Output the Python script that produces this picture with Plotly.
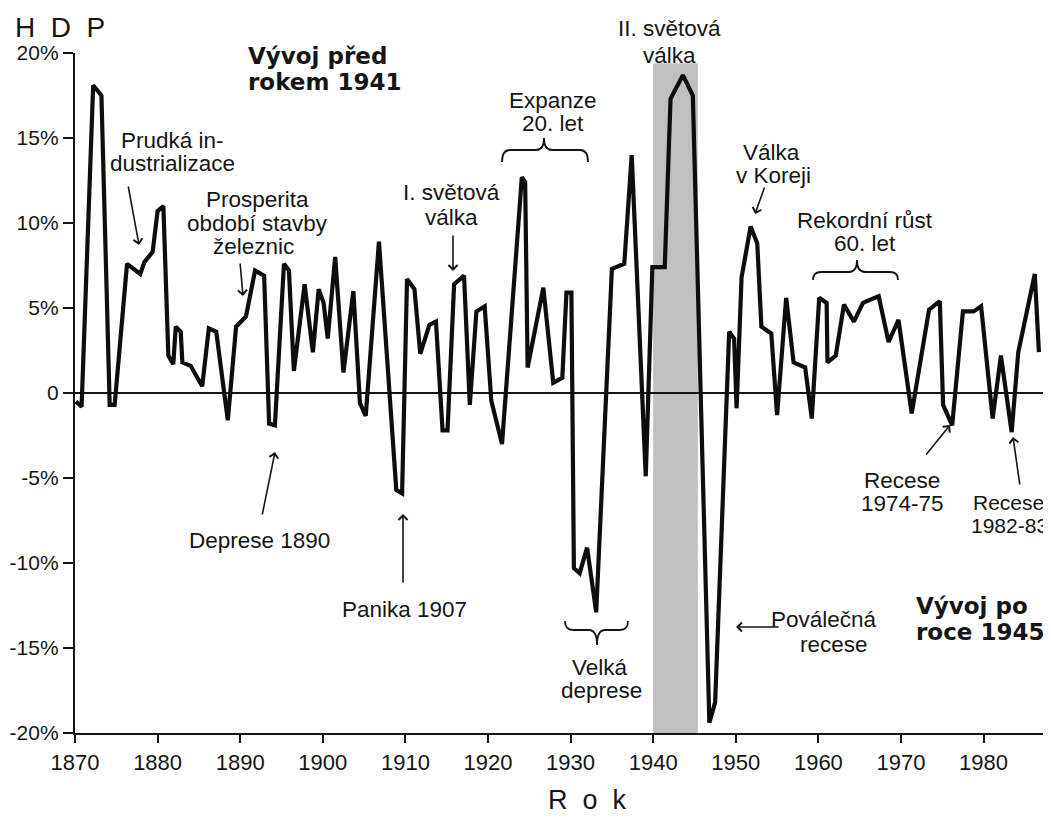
import plotly.graph_objects as go

# ---------------- data ----------------
years = [
    1870.1, 1870.8, 1872.2, 1873.2, 1874.2, 1874.8, 1876.3, 1877.9, 1878.4, 1879.4,
    1880.0, 1880.7, 1881.3, 1881.9, 1882.2, 1882.8, 1883.0, 1884.0, 1885.4, 1886.2,
    1887.1, 1888.5, 1889.5, 1890.7, 1891.8, 1892.9, 1893.5, 1894.2, 1895.3, 1895.9,
    1896.5, 1897.8, 1898.8, 1899.5, 1900.1, 1900.6, 1901.5, 1902.5, 1903.7, 1904.5,
    1905.2, 1906.8, 1908.9, 1909.6, 1910.2, 1911.1, 1911.8, 1912.9, 1913.7, 1914.5,
    1915.1, 1915.9, 1917.1, 1917.8, 1918.6, 1919.6, 1920.4, 1921.7, 1924.1, 1924.5,
    1924.8, 1926.7, 1927.9, 1929.0, 1929.5, 1930.1, 1930.4, 1931.1, 1932.0, 1933.1,
    1935.0, 1936.5, 1937.4, 1939.1, 1939.9, 1941.4, 1942.1, 1943.6, 1944.8, 1946.8,
    1947.5, 1949.2, 1949.8, 1950.1, 1950.7, 1951.8, 1952.6, 1953.1, 1954.3, 1955.0,
    1956.1, 1957.0, 1958.4, 1959.2, 1960.1, 1961.0, 1961.1, 1962.1, 1963.1, 1964.3,
    1965.4, 1967.3, 1968.5, 1969.7, 1971.3, 1973.4, 1974.7, 1975.1, 1976.2, 1977.5,
    1978.8, 1979.7, 1981.1, 1982.1, 1983.4, 1984.2, 1986.2, 1986.7,
]
growth = [
    -0.5, -0.8, 18.1, 17.5, -0.7, -0.7, 7.6, 7.0, 7.7, 8.3,
    10.7, 11.0, 2.2, 1.7, 3.9, 3.6, 1.8, 1.6, 0.4, 3.8,
    3.6, -1.6, 3.9, 4.5, 7.2, 6.9, -1.8, -1.9, 7.6, 7.2,
    1.3, 6.4, 2.4, 6.1, 5.3, 3.2, 8.0, 1.2, 6.0, -0.6,
    -1.35, 8.9, -5.7, -5.9, 6.7, 6.1, 2.3, 4.0, 4.2, -2.2,
    -2.2, 6.4, 6.9, -0.7, 4.8, 5.1, -0.45, -3.0, 12.7, 12.4,
    1.5, 6.2, 0.6, 0.9, 5.9, 5.9, -10.3, -10.6, -9.1, -12.9,
    7.3, 7.6, 14.0, -4.9, 7.4, 7.4, 17.3, 18.7, 17.5, -19.4,
    -18.2, 3.6, 3.2, -0.9, 6.8, 9.8, 8.8, 3.9, 3.5, -1.3,
    5.6, 1.8, 1.5, -1.5, 5.6, 5.3, 1.8, 2.2, 5.2, 4.2,
    5.3, 5.7, 3.0, 4.3, -1.2, 4.9, 5.4, -0.7, -1.9, 4.8,
    4.8, 5.1, -1.5, 2.2, -2.3, 2.4, 7.0, 2.4,
]

x_tick_values = [1870, 1880, 1890, 1900, 1910, 1920, 1930, 1940, 1950, 1960, 1970, 1980]
x_tick_labels = ["1870", "1880", "1890", "1900", "1910", "1920", "1930", "1940",
                 "1950", "1960", "1970", "1980"]
y_tick_values = [20, 15, 10, 5, 0, -5, -10, -15, -20]
y_tick_labels = ["20%", "15%", "10%", "5%", "0", "-5%", "-10%", "-15%", "-20%"]

war_start, war_end = 1940.0, 1945.4

# ---------------- layout geometry (page pixels) ----------------
W, H = 1051, 818
PAGE_OFFSET = 8                      # default body margin of the page
LEFT, TOP, PLOT_W, PLOT_H = 75, 53, 973, 680
X_MIN, X_MAX = 1870.0, 1987.8
Y_MIN, Y_MAX = -20.0, 20.0

FONT = "Liberation Sans, Arial, Helvetica, sans-serif"
BOLD = "DejaVu Sans, Verdana, sans-serif"
INK = "#151515"


def dx(px):
    return X_MIN + (px - LEFT) / PLOT_W * (X_MAX - X_MIN)


def dy(py):
    return Y_MAX - (py - TOP) / PLOT_H * (Y_MAX - Y_MIN)


def paper_x(px):
    return (px - LEFT) / PLOT_W


def paper_y(py):
    return 1 - (py - TOP) / PLOT_H


fig = go.Figure()

fig.add_trace(go.Scatter(
    x=years, y=growth, mode="lines",
    line=dict(color="#0d0d0d", width=4.2),
    hoverinfo="skip", showlegend=False,
))

shapes = []
# WWII shaded band
shapes.append(dict(type="rect", xref="x", yref="y", x0=war_start, x1=war_end,
                   y0=-20, y1=19.4, fillcolor="#c0c0c0", line=dict(width=0),
                   layer="below"))


def brace(x0, x1, xc, y_end, y_main, y_tip, r=8):
    pts = [
        ("M", [(x0, y_end)]),
        ("Q", [(x0, y_main), (x0 + r, y_main)]),
        ("L", [(xc - r, y_main)]),
        ("Q", [(xc, y_main), (xc, y_tip)]),
        ("Q", [(xc, y_main), (xc + r, y_main)]),
        ("L", [(x1 - r, y_main)]),
        ("Q", [(x1, y_main), (x1, y_end)]),
    ]
    s = ""
    for cmd, ps in pts:
        s += cmd + " ".join(f"{dx(a):.3f},{dy(b):.3f}" for a, b in ps) + " "
    return dict(type="path", xref="x", yref="y", path=s.strip(),
                line=dict(color=INK, width=1.8))


shapes.append(brace(502, 588, 544, 162, 150, 138))   # Expanze 20. let
shapes.append(brace(813, 898, 857, 280, 272, 260))   # Rekordní růst 60. let
shapes.append(brace(565, 628, 597, 621, 630, 645))   # Velká deprese

annotations = []


def text(s, px, py, size=22.5, bold=False, anchor="center"):
    annotations.append(dict(
        text=f"<b>{s}</b>" if bold else s,
        x=paper_x(px), y=paper_y(py), xref="paper", yref="paper", showarrow=False,
        xanchor=anchor, yanchor="middle",
        font=dict(family=BOLD if bold else FONT, size=size, color=INK),
    ))


def arrow(tail, head):
    annotations.append(dict(
        text="", x=dx(head[0]), y=dy(head[1]), ax=dx(tail[0]), ay=dy(tail[1]),
        xref="x", yref="y", axref="x", ayref="y", showarrow=True,
        arrowhead=4, arrowsize=1.1, arrowwidth=1.6, arrowcolor=INK,
    ))


text("H\u00a0\u00a0D\u00a0\u00a0P", 60, 28, size=28)
text("R\u00a0\u00a0o\u00a0\u00a0k", 587, 800, size=27)

text("Vývoj před", 246, 56, size=23, bold=True, anchor="left")
text("rokem 1941", 246, 82, size=23, bold=True, anchor="left")
text("Vývoj po", 914, 606, size=23, bold=True, anchor="left")
text("roce 1945", 914, 632, size=23, bold=True, anchor="left")

text("Prudká in-", 172, 140)
text("dustrializace", 172, 163)
arrow((128, 185), (139, 245))

text("Prosperita", 257, 199)
text("období stavby", 257, 223)
text("železnic", 253, 246)
arrow((240, 262), (243, 296))

text("I. světová", 451, 193)
text("válka", 451, 217)
arrow((453, 234), (453, 271))

text("Expanze", 553, 101)
text("20. let", 553, 124)

text("II. světová", 669, 29)
text("válka", 669, 56)

text("Válka", 771, 152)
text("v Koreji", 773, 175)
arrow((765, 186), (755, 214))

text("Rekordní růst", 865, 220)
text("60. let", 865, 243)

text("Deprese 1890", 259, 540)
arrow((262, 516), (275, 452))

text("Panika 1907", 404, 609)
arrow((403, 584), (403, 514))

text("Velká", 600, 667)
text("deprese", 601, 690)

text("Poválečná", 824, 619)
text("recese", 834, 644)
arrow((780, 627), (736, 627))

text("Recese", 902, 480)
text("1974-75", 902, 503)
arrow((925, 456), (950, 425))

text("Recese", 971, 502, size=21, anchor="left")
text("1982-83", 969, 525, size=21, anchor="left")
arrow((1020, 486), (1013, 437))

fig.update_layout(
    width=W, height=H,
    margin=dict(l=LEFT - PAGE_OFFSET, r=W - (LEFT - PAGE_OFFSET) - PLOT_W,
                t=TOP - PAGE_OFFSET, b=H - (TOP - PAGE_OFFSET) - PLOT_H, pad=0),
    paper_bgcolor="white", plot_bgcolor="white",
    shapes=shapes, annotations=annotations,
    showlegend=False,
    font=dict(family=FONT, color=INK),
    xaxis=dict(
        range=[X_MIN, X_MAX], tickvals=x_tick_values, ticktext=x_tick_labels,
        showgrid=False, zeroline=False, automargin=False,
        showline=True, linecolor=INK, linewidth=2.4,
        ticks="outside", ticklen=8, tickwidth=2, tickcolor=INK,
        tickfont=dict(family=FONT, size=22, color=INK),
    ),
    yaxis=dict(
        range=[Y_MIN, Y_MAX], tickvals=y_tick_values, ticktext=y_tick_labels,
        showgrid=False, automargin=False,
        zeroline=True, zerolinecolor=INK, zerolinewidth=1.8,
        showline=True, linecolor=INK, linewidth=2.4,
        ticks="outside", ticklen=10, tickwidth=2, tickcolor=INK,
        tickfont=dict(family=FONT, size=21, color=INK),
    ),
)

fig.write_html("out.html")
